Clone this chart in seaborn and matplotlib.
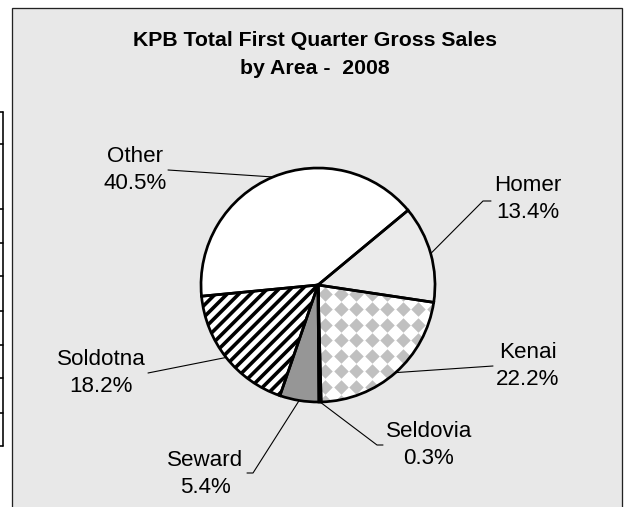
import numpy as np
import matplotlib
matplotlib.use("Agg")
import matplotlib.pyplot as plt
from matplotlib.patches import Rectangle, Wedge
from matplotlib.collections import LineCollection
import seaborn as sns

# data
areas = ["Homer", "Kenai", "Seldovia", "Seward", "Soldotna", "Other"]
shares = [13.4, 22.2, 0.3, 5.4, 18.2, 40.5]
title_lines = ["KPB Total First Quarter Gross Sales", "by Area -  2008"]

# slice fills (Kenai gets a diamond texture, Soldotna black stripes)
slice_colors = ["#ebebeb", "#ffffff", "#000000", "#969696", "#ffffff", "#ffffff"]

DPI = 70
W, H = 627, 507
PT = 72 / DPI  # pixel -> point


def flip(y):
    # image row -> data y
    return H - y


# label layout in image pixels
label_pos = {"Homer": (528, 199), "Kenai": (528, 366), "Seldovia": (429, 445),
             "Seward": (205, 474), "Soldotna": (101, 373), "Other": (135, 170)}
leader_end = {"Homer": (491, 201), "Kenai": (493, 366), "Seldovia": (383, 445),
              "Seward": (247, 473), "Soldotna": (148, 373), "Other": (168, 170)}
leader_kink = {"Homer": 8, "Seldovia": 6, "Seward": -6}

sns.set_theme(style="white")
plt.rcParams["font.family"] = ["Liberation Sans", "DejaVu Sans"]

fig = plt.figure(figsize=(W / DPI, H / DPI), dpi=DPI)
fig.patch.set_facecolor("white")
ax = fig.add_axes([0, 0, 1, 1])

# grey chart area with its frame
ax.add_patch(Rectangle((12, -10), 610, flip(8) + 10, facecolor="#e8e8e8",
                       edgecolor="#222222", lw=1.3 * PT, zorder=0))

# edge of the neighbouring table, cut off at the left
ax.plot([3, 3], [flip(112), flip(446)], color="black", lw=1.6 * PT, zorder=0.5)
for yy in [112, 144, 209, 243, 276, 311, 345, 378, 413, 446]:
    ax.plot([-1, 3], [flip(yy), flip(yy)], color="black", lw=1.6 * PT, zorder=0.5)

cx, cy, r = 318, flip(285), 117
wedges, _ = ax.pie(shares, colors=slice_colors, startangle=39.7, counterclock=False,
                   center=(cx, cy), radius=r,
                   wedgeprops=dict(edgecolor="none", linewidth=0))

# Kenai texture: grey diamonds clipped to the wedge
gx, gy = np.meshgrid(np.arange(cx - r, cx + r + 16, 15.5), np.arange(cy - r, cy + r + 16, 15.5))
dots = ax.scatter(gx.ravel(), gy.ravel(), marker=(4, 0, 0), s=(14.5 * PT) ** 2,
                  color="#c0c0c0", linewidths=0, zorder=1.5)
dots.set_clip_path(wedges[1])

# Soldotna texture: diagonal black stripes clipped to the wedge
offs = np.arange(-2 * r, 2 * r, 11.7)
segs = [[(cx - r + o, cy - r), (cx + r + o, cy + r)] for o in offs]
stripes = LineCollection(segs, colors="black", linewidths=3.6 * PT, zorder=1.5)
ax.add_collection(stripes)
stripes.set_clip_path(wedges[4])

# outlines on top
for w in wedges:
    ax.add_patch(Wedge(w.center, w.r, w.theta1, w.theta2, fill=False,
                       edgecolor="black", lw=2.7 * PT, zorder=3))

# leader lines and labels
for w, name, val in zip(wedges, areas, shares):
    mid = np.deg2rad((w.theta1 + w.theta2) / 2)
    ax0, ay0 = cx + r * np.cos(mid), cy + r * np.sin(mid)
    ex, ey = leader_end[name]
    xs, ys = [ax0], [ay0]
    if name in leader_kink:
        xs.append(ex - leader_kink[name])
        ys.append(flip(ey))
    xs.append(ex)
    ys.append(flip(ey))
    ax.plot(xs, ys, color="black", lw=1.1 * PT, zorder=2.5)
    lx, ly = label_pos[name]
    ax.text(lx, flip(ly), f"{name}\n{val:.1f}%", ha="center", va="center",
            multialignment="center", fontsize=23, linespacing=1.38, color="black")

ax.text(315, flip(55), "\n".join(title_lines), ha="center", va="center",
        fontsize=21.9, fontweight="bold", linespacing=1.6, color="black")

ax.set_xlim(0, W)
ax.set_ylim(0, H)
ax.axis("off")

fig.savefig("out.png", dpi=DPI)
